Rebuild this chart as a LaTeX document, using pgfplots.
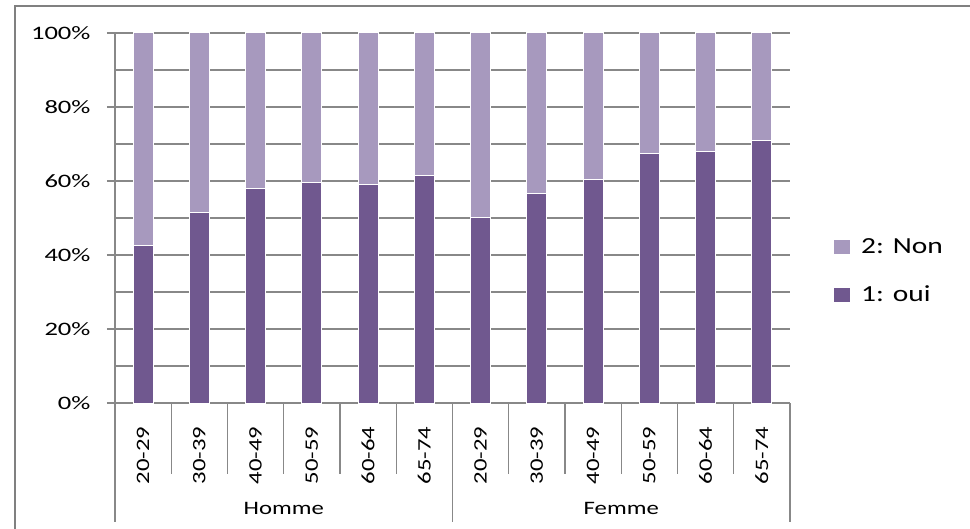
\documentclass[border=0pt]{standalone}
\usepackage{pgfplots}
\pgfplotsset{compat=1.18}
\usepackage{pgfplotstable}
\usepackage{fontspec}
\setmainfont{Carlito}[FakeStretch=1.3]
\newfontfamily\ticfont{Carlito}[FakeStretch=1.4]
\newfontfamily\legfont{Carlito}[FakeStretch=1.28]

\definecolor{oui}{HTML}{70588F}
\definecolor{non}{HTML}{A799BE}
\definecolor{grille}{HTML}{888888}
\definecolor{cadre}{HTML}{808080}

% part "1: oui" en %, le reste est "2: Non"
\pgfplotstableread{
x oui non
0 42.5 57.5
1 51.5 48.5
2 58.0 42.0
3 59.5 40.5
4 59.0 41.0
5 61.5 38.5
6 50.0 50.0
7 56.5 43.5
8 60.5 39.5
9 67.5 32.5
10 68.0 32.0
11 71.0 29.0
}\donnees

\begin{document}
\begin{tikzpicture}
\path[use as bounding box] (0,0) rectangle (970bp,529bp);
% cadre du graphique (gauche et haut)
\draw[cadre, line width=1.6bp] (15bp,-5bp) -- (15bp,523bp) -- (980bp,523bp);
\begin{axis}[
    at={(115bp,126bp)}, anchor=south west,
    scale only axis,
    width=675bp, height=370bp,
    ybar stacked,
    bar width=20bp,
    xmin=-0.5, xmax=11.5,
    ymin=0, ymax=100,
    axis x line*=bottom,
    axis y line*=left,
    axis line style={grille, line width=1.2bp, -},
    xtick=data,
    xticklabels={20-29,30-39,40-49,50-59,60-64,65-74,20-29,30-39,40-49,50-59,60-64,65-74},
    xtick style={draw=none},
    xticklabel style={rotate=90, anchor=east, font=\fontsize{19bp}{22bp}\selectfont},
    xticklabel shift=12bp,
    ytick={0,20,40,60,80,100},
    yticklabels={0\%,20\%,40\%,60\%,80\%,100\%},
    minor ytick={10,30,50,70,90},
    yticklabel style={font=\ticfont\fontsize{19bp}{22bp}\selectfont, xshift=-13bp},
    ymajorgrids, yminorgrids,
    major grid style={grille, line width=1.2bp},
    minor grid style={grille, line width=1.2bp},
    tick align=outside,
    major tick length=8bp,
    minor tick length=0pt,
    ytick style={grille, line width=1.2bp},
    clip=false,
    reverse legend,
    legend style={at={(1,0.357)}, anchor=west, xshift=40bp, draw=none,
        font=\legfont\fontsize{23bp}{26bp}\selectfont, row sep=27bp},
    legend cell align=left,
    legend image code/.code={\draw[#1, draw=white] (0bp,-7.5bp) rectangle (17bp,7.5bp);},
]
\addplot[fill=oui, draw=white, line width=1bp] table[x=x, y=oui] {\donnees};
\addlegendentry{\hspace{8bp}1: oui}
\addplot[fill=non, draw=white, line width=1bp] table[x=x, y=non] {\donnees};
\addlegendentry{\hspace{8bp}2: Non}

% separateurs des categories
\draw[grille, line width=1.2bp] (axis cs:-0.5,0) -- ([yshift=-119bp]axis cs:-0.5,0);
\draw[grille, line width=1.2bp] (axis cs:5.5,0) -- ([yshift=-119bp]axis cs:5.5,0);
\draw[grille, line width=1.2bp] (axis cs:11.5,0) -- ([yshift=-119bp]axis cs:11.5,0);
\draw[grille, line width=1.2bp] (axis cs:0.5,0) -- ([yshift=-71bp]axis cs:0.5,0);
\draw[grille, line width=1.2bp] (axis cs:1.5,0) -- ([yshift=-71bp]axis cs:1.5,0);
\draw[grille, line width=1.2bp] (axis cs:2.5,0) -- ([yshift=-71bp]axis cs:2.5,0);
\draw[grille, line width=1.2bp] (axis cs:3.5,0) -- ([yshift=-71bp]axis cs:3.5,0);
\draw[grille, line width=1.2bp] (axis cs:4.5,0) -- ([yshift=-71bp]axis cs:4.5,0);
\draw[grille, line width=1.2bp] (axis cs:6.5,0) -- ([yshift=-71bp]axis cs:6.5,0);
\draw[grille, line width=1.2bp] (axis cs:7.5,0) -- ([yshift=-71bp]axis cs:7.5,0);
\draw[grille, line width=1.2bp] (axis cs:8.5,0) -- ([yshift=-71bp]axis cs:8.5,0);
\draw[grille, line width=1.2bp] (axis cs:9.5,0) -- ([yshift=-71bp]axis cs:9.5,0);
\draw[grille, line width=1.2bp] (axis cs:10.5,0) -- ([yshift=-71bp]axis cs:10.5,0);
\node[font=\fontsize{19bp}{22bp}\selectfont] at ([yshift=-105bp]axis cs:2.5,0) {Homme};
\node[font=\fontsize{19bp}{22bp}\selectfont] at ([yshift=-105bp]axis cs:8.5,0) {Femme};
\end{axis}
\end{tikzpicture}
\end{document}
